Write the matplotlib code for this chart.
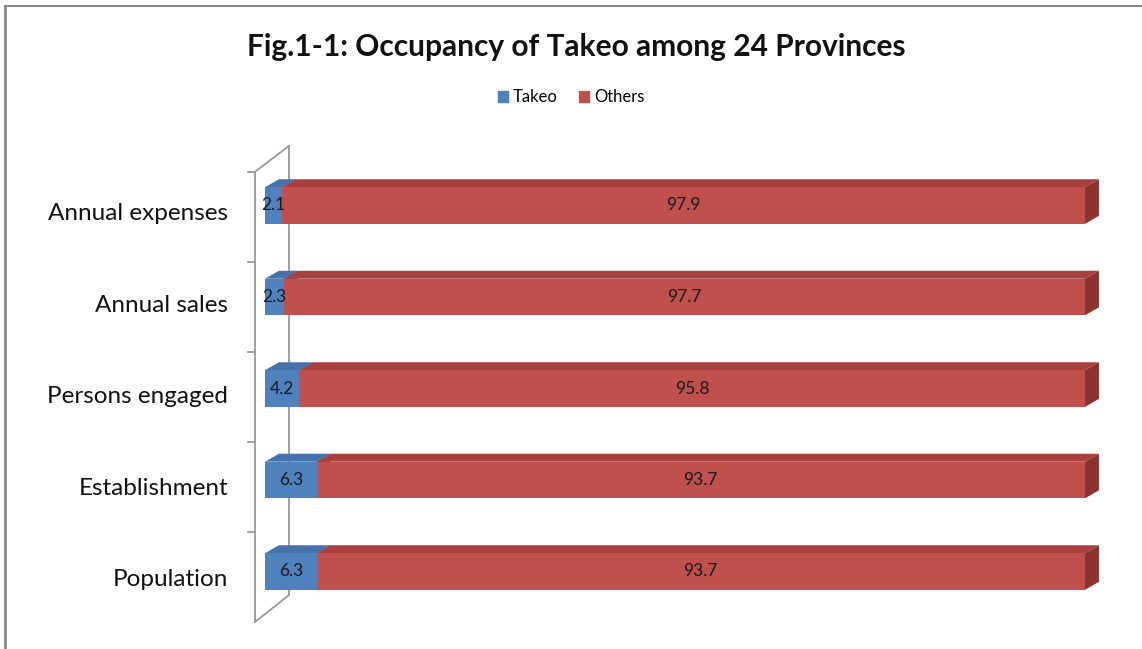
import matplotlib
matplotlib.use("Agg")
from matplotlib import pyplot as plt
from matplotlib.patches import Polygon
from matplotlib.lines import Line2D

categories = ["Population", "Establishment", "Persons engaged", "Annual sales", "Annual expenses"]
takeo = [6.3, 6.3, 4.2, 2.3, 2.1]
others = [93.7, 93.7, 95.8, 97.7, 97.9]
series_names = ["Takeo", "Others"]

front_colors = ["#4F81BD", "#C0504D"]
top_colors = ["#4572AA", "#A8403D"]
side_colors = ["#3A6090", "#8C3230"]

plt.rcParams['font.family'] = ['Lato', 'DejaVu Sans']

W, H = 1142, 649
fig = plt.figure(figsize=(W / 100, H / 100), dpi=100)

# value 0 -> px 265, 100 -> px 1085 ; category c centre -> px 571.5 - 91.5c
ax = fig.add_axes([265 / W, (649 - 617.25) / H, 820 / W, 457.5 / H])
ax.set_xlim(0, 100)
ax.set_ylim(-0.5, 4.5)
ax.axis("off")

bar_h = 0.40
dx, dy = 1.7, 0.087   # depth offset in data units


def box(left, width, y, i):
    y0, y1 = y - bar_h / 2, y + bar_h / 2
    ax.barh(y, width, left=left, height=bar_h, color=front_colors[i], zorder=3)
    top = [(left, y1), (left + width, y1), (left + width + dx, y1 + dy), (left + dx, y1 + dy)]
    ax.add_patch(Polygon(top, closed=True, color=top_colors[i], lw=0, zorder=2,
                         clip_on=False))
    side = [(left + width, y0), (left + width + dx, y0 + dy),
            (left + width + dx, y1 + dy), (left + width, y1)]
    ax.add_patch(Polygon(side, closed=True, color=side_colors[i], lw=0, zorder=2,
                         clip_on=False))
    ax.text(left + width / 2, y, f"{width:.1f}", ha="center", va="center",
            fontsize=12.5, color="#1a1a1a", zorder=5)


# side wall (drawn behind the bars)
n = len(categories)
wall_kw = dict(color="#999999", lw=1.3, zorder=1, clip_on=False)
fx, bx = -1.2, 2.9
fb, ft = -0.55, n - 0.63
ax.plot([fx, fx], [fb, ft], **wall_kw)
ax.plot([bx, bx], [fb + 0.29, ft + 0.28], **wall_kw)
ax.plot([fx, bx], [ft, ft + 0.28], **wall_kw)
ax.plot([fx, bx], [fb, fb + 0.29], **wall_kw)
for k in range(1, n + 1):
    yk = fb + k * (ft - fb) / n
    ax.plot([fx - 0.9, fx], [yk, yk], **wall_kw)

for y, (a, b) in enumerate(zip(takeo, others)):
    box(0, a, y, 0)
    box(a, b, y, 1)
    ax.text(-4.5, y - 0.09, categories[y], ha="right", va="center", fontsize=17.5,
            color="#111111")

fig.text(0.505, 0.927, "Fig.1-1: Occupancy of Takeo among 24 Provinces",
         ha="center", va="center", fontsize=21.5, fontweight="bold", color="#111111")

handles = [plt.Rectangle((0, 0), 1, 1, color=c) for c in front_colors]
fig.legend(handles, series_names, loc="center", bbox_to_anchor=(0.5, 0.85),
           ncol=2, frameon=False, fontsize=12, handlelength=0.6, handleheight=0.6,
           columnspacing=1.3, handletextpad=0.3)

# outer frame (left and top edges visible)
fig.add_artist(Line2D([5 / W, 5 / W], [0, 1 - 6 / H], color="#8a8a8a", lw=2,
                      transform=fig.transFigure))
fig.add_artist(Line2D([5 / W, 1], [1 - 6 / H, 1 - 6 / H], color="#8a8a8a", lw=1.5,
                      transform=fig.transFigure))

fig.savefig("out.png", dpi=100)
